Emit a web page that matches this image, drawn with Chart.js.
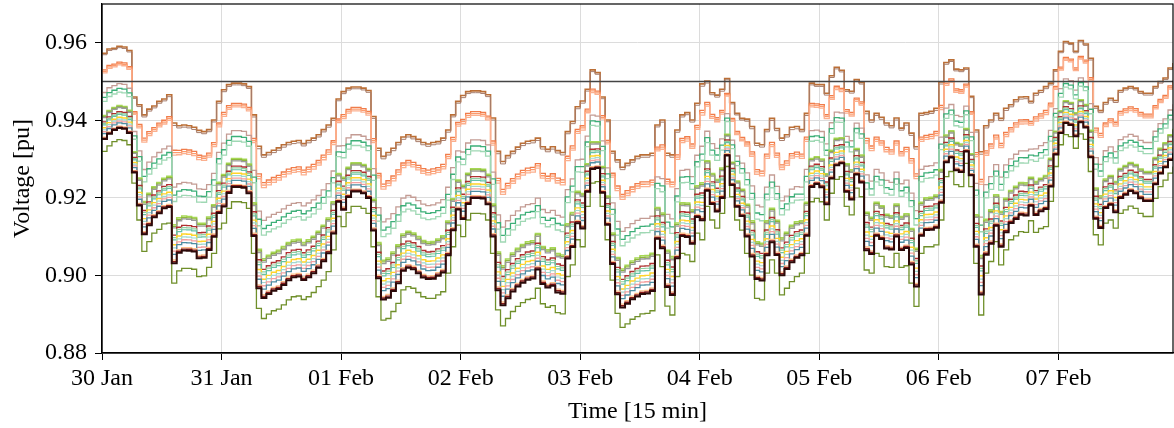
<!DOCTYPE html>
<html>
<head>
<meta charset="utf-8">
<script src="https://cdn.jsdelivr.net/npm/chart.js@4.4.1/dist/chart.umd.min.js"></script>
<style>
    html, body { margin: 0; padding: 0; background: #ffffff; }
</style>
</head>
<body>
<canvas id="grafico" width="1174" height="428"></canvas>
<script>
// rótulos do eixo x (um por dia, a cada 24 h)
const dayLabels = ['30 Jan', '31 Jan', '01 Feb', '02 Feb', '03 Feb', '04 Feb', '05 Feb', '06 Feb', '07 Feb'];
const yTicks = [0.88, 0.90, 0.92, 0.94, 0.96];
const voltageLimit = 0.95;

// tensão horária do nó mais alto (linha marrom), um dia por linha
const topNode = [
    0.9573, 0.9584, 0.9586, 0.9591, 0.9589, 0.9580, 0.9460, 0.9440, 0.9414, 0.9429, 0.9437, 0.9449, 0.9455, 0.9466, 0.9393, 0.9386, 0.9388, 0.9386, 0.9382, 0.9374, 0.9371, 0.9376, 0.9401, 0.9449,
    0.9479, 0.9492, 0.9496, 0.9496, 0.9494, 0.9487, 0.9414, 0.9333, 0.9311, 0.9317, 0.9323, 0.9329, 0.9337, 0.9343, 0.9346, 0.9348, 0.9340, 0.9348, 0.9354, 0.9363, 0.9376, 0.9388, 0.9405, 0.9455,
    0.9474, 0.9483, 0.9486, 0.9486, 0.9483, 0.9477, 0.9410, 0.9328, 0.9307, 0.9317, 0.9328, 0.9343, 0.9357, 0.9363, 0.9358, 0.9351, 0.9343, 0.9339, 0.9343, 0.9345, 0.9354, 0.9375, 0.9414, 0.9449,
    0.9464, 0.9474, 0.9476, 0.9476, 0.9474, 0.9466, 0.9406, 0.9320, 0.9294, 0.9309, 0.9320, 0.9331, 0.9341, 0.9346, 0.9348, 0.9354, 0.9332, 0.9325, 0.9332, 0.9322, 0.9317, 0.9371, 0.9397, 0.9435,
    0.9450, 0.9480, 0.9530, 0.9523, 0.9460, 0.9401, 0.9320, 0.9298, 0.9279, 0.9289, 0.9298, 0.9307, 0.9311, 0.9311, 0.9315, 0.9388, 0.9401, 0.9315, 0.9311, 0.9375, 0.9414, 0.9420, 0.9401, 0.9444,
    0.9494, 0.9501, 0.9471, 0.9465, 0.9480, 0.9508, 0.9446, 0.9418, 0.9405, 0.9403, 0.9384, 0.9341, 0.9337, 0.9376, 0.9405, 0.9379, 0.9354, 0.9363, 0.9382, 0.9384, 0.9376, 0.9418, 0.9496, 0.9492,
    0.9492, 0.9470, 0.9515, 0.9537, 0.9529, 0.9479, 0.9475, 0.9505, 0.9498, 0.9423, 0.9401, 0.9418, 0.9408, 0.9393, 0.9386, 0.9406, 0.9380, 0.9393, 0.9367, 0.9332, 0.9418, 0.9420, 0.9423, 0.9431,
    0.9499, 0.9549, 0.9556, 0.9532, 0.9530, 0.9535, 0.9462, 0.9375, 0.9319, 0.9386, 0.9401, 0.9418, 0.9405, 0.9431, 0.9440, 0.9453, 0.9460, 0.9461, 0.9449, 0.9470, 0.9477, 0.9487, 0.9496, 0.9530,
    0.9578, 0.9603, 0.9599, 0.9578, 0.9606, 0.9597, 0.9560, 0.9436, 0.9425, 0.9446, 0.9457, 0.9451, 0.9477, 0.9483, 0.9487, 0.9483, 0.9474, 0.9470, 0.9470, 0.9487, 0.9500, 0.9509, 0.9535, 0.9548
];

// tensão horária do nó mais baixo (linha oliva)
const bottomNode = [
    0.9320, 0.9334, 0.9345, 0.9350, 0.9348, 0.9337, 0.9238, 0.9143, 0.9062, 0.9087, 0.9109, 0.9119, 0.9133, 0.9135, 0.8980, 0.9012, 0.9018, 0.9018, 0.9016, 0.8997, 0.8999, 0.9021, 0.9057, 0.9120,
    0.9135, 0.9173, 0.9190, 0.9190, 0.9188, 0.9173, 0.9057, 0.8915, 0.8889, 0.8900, 0.8909, 0.8913, 0.8924, 0.8937, 0.8945, 0.8947, 0.8938, 0.8945, 0.8956, 0.8971, 0.8988, 0.9010, 0.9066, 0.9152,
    0.9126, 0.9162, 0.9178, 0.9178, 0.9173, 0.9160, 0.9074, 0.8945, 0.8885, 0.8889, 0.8907, 0.8928, 0.8963, 0.8971, 0.8967, 0.8956, 0.8945, 0.8941, 0.8941, 0.8950, 0.8958, 0.9006, 0.9074, 0.9130,
    0.9100, 0.9143, 0.9160, 0.9160, 0.9159, 0.9143, 0.9057, 0.8911, 0.8870, 0.8889, 0.8907, 0.8920, 0.8930, 0.8938, 0.8941, 0.8967, 0.8927, 0.8918, 0.8922, 0.8904, 0.8901, 0.8997, 0.9027, 0.9092,
    0.9074, 0.9178, 0.9238, 0.9242, 0.9178, 0.9092, 0.8988, 0.8902, 0.8866, 0.8875, 0.8887, 0.8894, 0.8901, 0.8902, 0.8909, 0.9053, 0.9023, 0.8921, 0.8898, 0.8997, 0.9057, 0.9053, 0.9036, 0.9109,
    0.9092, 0.9178, 0.9143, 0.9122, 0.9160, 0.9281, 0.9203, 0.9143, 0.9117, 0.9057, 0.9001, 0.8941, 0.8937, 0.9006, 0.9040, 0.9006, 0.8950, 0.8967, 0.8984, 0.8997, 0.9006, 0.9057, 0.9190, 0.9199,
    0.9190, 0.9143, 0.9212, 0.9248, 0.9255, 0.9178, 0.9156, 0.9225, 0.9203, 0.9014, 0.9006, 0.9057, 0.9049, 0.9023, 0.9021, 0.9057, 0.9021, 0.9025, 0.8980, 0.8920, 0.9057, 0.9074, 0.9074, 0.9079,
    0.9143, 0.9255, 0.9268, 0.9234, 0.9229, 0.9289, 0.9229, 0.9031, 0.8898, 0.9006, 0.9036, 0.9087, 0.9027, 0.9066, 0.9092, 0.9102, 0.9113, 0.9111, 0.9141, 0.9111, 0.9121, 0.9126, 0.9191, 0.9281,
    0.9337, 0.9363, 0.9358, 0.9328, 0.9365, 0.9351, 0.9268, 0.9105, 0.9079, 0.9135, 0.9143, 0.9122, 0.9160, 0.9169, 0.9179, 0.9173, 0.9160, 0.9152, 0.9152, 0.9199, 0.9229, 0.9246, 0.9264, 0.9281
];

// posição de cada nó entre a linha marrom (0) e a oliva (1)
const nodeShare = [0.0, 0.015, 0.17, 0.185, 0.20, 0.40, 0.45, 0.49,
    0.635, 0.645, 0.655, 0.70, 0.715, 0.73, 0.76, 0.78, 0.80, 0.82, 0.855, 0.865, 1.0, 0.875];

// estilo (cor e espessura) de cada nó
const nodeColors = ['#bb6f36', '#a67c6b', '#f07c4a', '#fc9a6c', '#fbb08f', '#c49c94', '#3daf78', '#9fd8b4',
    '#a6d854', '#8db63c', '#9a9a9a', '#b03030', '#90cfa0', '#66c2a5', '#ffd42a', '#a0d8d0', '#f4a0a0', '#4d8ea3', '#fdc08a', '#8b1a1a', '#6f8f2a', '#2b0a0a'];
const nodeWidths = [1.6, 1.0, 1.3, 1.3, 1.3, 1.3, 1.3, 1.3,
    1.5, 1.3, 1.3, 1.4, 1.2, 1.2, 1.4, 1.2, 1.3, 1.3, 1.3, 1.4, 1.3, 2.0];

const hours = topNode.map((_, i) => i);

const serif = "'Liberation Serif', 'Times New Roman', serif";

const datasets = nodeShare.map((s, k) => ({
    data: hours.map(h => ({ x: h, y: topNode[h] + s * (bottomNode[h] - topNode[h]) })),
    borderColor: nodeColors[k],
    borderWidth: nodeWidths[k],
    pointRadius: 0,
    stepped: true,
    order: nodeShare.length - k + 1
}));

// linha limite de 0.95 pu
datasets.push({
    data: [{ x: hours[0], y: voltageLimit }, { x: hours[hours.length - 1], y: voltageLimit }],
    borderColor: '#444444',
    borderWidth: 1.5,
    pointRadius: 0,
    order: 0
});

const moldura = {
    id: 'moldura',
    afterDatasetsDraw(chart) {
        const { ctx, chartArea: a } = chart;
        ctx.save();
        ctx.strokeStyle = '#000';
        ctx.lineWidth = 1.2;
        ctx.strokeRect(a.left, a.top, a.right - a.left, a.bottom - a.top);
        ctx.restore();
    }
};

new Chart(document.getElementById('grafico').getContext('2d'), {
    type: 'line',
    data: { datasets },
    options: {
        responsive: false,
        animation: false,
        layout: { padding: { top: 4, right: 1, left: 0, bottom: 0 } },
        plugins: { legend: { display: false }, tooltip: { enabled: false } },
        scales: {
            x: {
                type: 'linear',
                min: 0,
                max: hours[hours.length - 1],
                afterBuildTicks: scale => { scale.ticks = dayLabels.map((_, i) => ({ value: i * 24 })); },
                afterFit: scale => { scale.height = 75; scale.paddingLeft = 0; scale.paddingRight = 0; },
                ticks: {
                    color: '#000',
                    font: { family: serif, size: 24 },
                    padding: 4,
                    maxRotation: 0,
                    autoSkip: false,
                    callback: (v, i) => dayLabels[i]
                },
                grid: { color: '#dcdcdc', tickColor: '#000', tickLength: 7 },
                border: { color: '#000', width: 1.2 },
                title: { display: true, text: 'Time [15 min]', color: '#000', font: { family: serif, size: 24 }, padding: { top: 0, bottom: 2 } }
            },
            y: {
                min: 0.88,
                max: 0.97,
                afterBuildTicks: scale => { scale.ticks = yTicks.map(v => ({ value: v })); },
                afterFit: scale => { scale.width = 102; scale.paddingTop = 0; scale.paddingBottom = 0; },
                ticks: {
                    color: '#000',
                    font: { family: serif, size: 24 },
                    padding: 8,
                    callback: v => v.toFixed(2)
                },
                grid: { color: '#dcdcdc', tickColor: '#000', tickLength: 7 },
                border: { color: '#000', width: 1.2 },
                title: { display: true, text: 'Voltage [pu]', color: '#000', font: { family: serif, size: 24 }, padding: { top: 8, bottom: 0 } }
            }
        }
    },
    plugins: [moldura]
});
</script>
</body>
</html>
